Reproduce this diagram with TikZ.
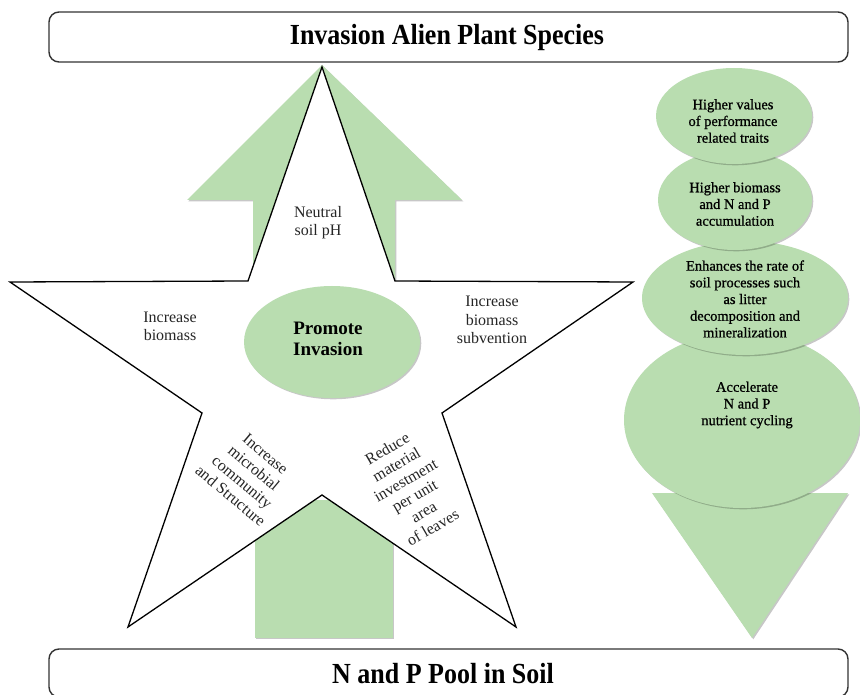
\documentclass[tikz,border=0pt]{standalone}
\usepackage{fontspec}
\usepackage{graphicx}
\setmainfont{Liberation Serif}
\newfontfamily\semiserif[FakeBold=0.8]{Liberation Serif}
\usetikzlibrary{shapes.geometric,shadows}
\definecolor{leaf}{RGB}{185,221,176}
\begin{document}
\begin{tikzpicture}[x=1pt,y=-1pt,
  greenshape/.style={fill=leaf, draw=none, drop shadow={shadow xshift=1.3pt,shadow yshift=-1.3pt,fill=black,opacity=0.22}},
  blob/.style={greenshape, ellipse, inner sep=0pt},
  banner/.style={draw=black!80, line width=1.4pt, rounded corners=10pt, fill=white, minimum width=799pt, inner sep=0pt},
  lab/.style={font=\fontsize{16}{18.2}\selectfont, align=center, inner sep=0pt, text=black!85},
  elab/.style={font=\semiserif\fontsize{14.5}{16.7}\selectfont, align=center, inner sep=0pt},
  title/.style={font=\fontsize{26}{30}\selectfont\bfseries},
]
\useasboundingbox (0,0) rectangle (860,695);
\clip (0,0) rectangle (860,695);

% green arrows behind the star
\path[greenshape] (187,200) -- (322,65) -- (462,200) -- (395,200) -- (395,300) -- (253,300) -- (253,200) -- cycle;
\path[greenshape] (255,638) -- (255,500) -- (393,500) -- (393,638) -- cycle;

% star
\draw[fill=white, line width=1.3pt, line join=miter]
  (322,67) -- (395,281) -- (633,282) -- (442,413) -- (516,627) -- (322,495)
  -- (128,627) -- (202,413) -- (10,282) -- (248,281) -- cycle;

% centre
\node[blob, minimum width=176pt, minimum height=112pt] (promote) at (332,342) {};
\node[font=\fontsize{19}{21}\selectfont\bfseries, align=center, inner sep=0pt] (promotetxt) at (328,339) {Promote\\Invasion};

% star labels
\node[lab] (neutral) at (318,223) {Neutral\\soil pH};
\node[lab] (incbio) at (170,326) {Increase\\biomass};
\node[lab] (incsub) at (492,320) {Increase\\biomass\\subvention};
\node[lab, rotate=-40] (microbial) at (248,475) {Increase\\microbial\\community\\and Structure};
\node[lab, rotate=30] (reduce) at (410,488) {Reduce\\material\\investment\\per unit\\area\\of leaves};

% right column
\path[greenshape] (652,493) -- (848,493) -- (752,638) -- cycle;
\node[blob, minimum width=236pt, minimum height=176pt] (e4) at (742,420) {};
\node[blob, minimum width=206pt, minimum height=114pt] (e3) at (745,298) {};
\node[blob, minimum width=154pt, minimum height=100pt] (e2) at (735,200) {};
\node[blob, minimum width=156pt, minimum height=96pt] (e1) at (734,116) {};
\node[elab] (t1) at (733,121) {Higher values\\of performance\\related traits};
\node[elab] (t2) at (735,204) {Higher biomass\\and N and P\\accumulation};
\node[elab] (t3) at (745,299) {Enhances the rate of\\soil processes such\\as litter\\decomposition and\\mineralization};
\node[elab] (t4) at (747,405) {Accelerate\\N and P\\nutrient cycling};

% banners
\node[banner, minimum height=50pt] (topbanner) at (448.5,37) {};
\node[title] (toptxt) at (447,37) {\scalebox{1}[1.12]{Invasion Alien Plant Species}};
\node[banner, minimum height=48pt] (botbanner) at (448.5,673) {};
\node[title] (bottxt) at (443,674) {\scalebox{1}[1.12]{N and P Pool in Soil}};
\end{tikzpicture}
\end{document}
